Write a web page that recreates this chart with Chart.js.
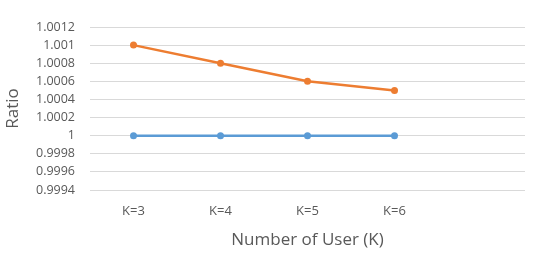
<!DOCTYPE html>
<html>
<head>
<meta charset="utf-8">
<script src="https://cdn.jsdelivr.net/npm/chart.js@4"></script>
<style>
  html, body { margin: 0; padding: 0; background: #fff; }
  #wrap { width: 539px; height: 257px; }
</style>
</head>
<body>
<div id="wrap"><canvas id="ratioChart"></canvas></div>
<script>
// categories (last slot is empty, as in the original sheet)
const userLabels = ['K=3', 'K=4', 'K=5', 'K=6', ''];

// series values
const blueRatio = [1, 1, 1, 1, null];
const orangeRatio = [1.001, 1.0008, 1.0006, 1.0005, null];

// y axis range
const yMin = 0.9994;
const yMax = 1.0012;
const yStep = 0.0002;

const textColor = '#595959';
const fontFamily = "'Open Sans', 'Noto Sans', sans-serif";

const data = {
  labels: userLabels,
  datasets: [
    {
      label: 'Series 1',
      data: blueRatio,
      borderColor: '#5B9BD5',
      backgroundColor: '#5B9BD5',
      borderWidth: 2.5,
      pointRadius: 3.5,
      pointBorderWidth: 0
    },
    {
      label: 'Series 2',
      data: orangeRatio,
      borderColor: '#ED7D31',
      backgroundColor: '#ED7D31',
      borderWidth: 2.5,
      pointRadius: 3.5,
      pointBorderWidth: 0
    }
  ]
};

const config = {
  type: 'line',
  data: data,
  options: {
    responsive: true,
    maintainAspectRatio: false,
    animation: false,
    layout: {
      padding: { top: 27, right: 14, bottom: 0, left: 0 }
    },
    plugins: {
      legend: { display: false },
      tooltip: { enabled: false }
    },
    scales: {
      x: {
        offset: true,
        grid: { display: false, drawTicks: false },
        border: { display: false },
        ticks: {
          color: textColor,
          padding: 13,
          font: { family: fontFamily, size: 13 }
        },
        title: {
          display: true,
          text: 'Number of User (K)',
          color: textColor,
          padding: { top: 7, bottom: 7 },
          font: { family: fontFamily, size: 17 }
        },
        afterFit: function (scale) { scale.height = 67; }
      },
      y: {
        min: yMin,
        max: yMax,
        grid: { color: '#d9d9d9', lineWidth: 1, drawTicks: false },
        border: { display: false },
        ticks: {
          stepSize: yStep,
          color: textColor,
          padding: 15,
          font: { family: fontFamily, size: 12.5 },
          callback: function (value) { return String(parseFloat(value.toFixed(4))); }
        },
        title: {
          display: true,
          text: 'Ratio',
          color: textColor,
          padding: { top: 3, bottom: 3 },
          font: { family: fontFamily, size: 17 }
        },
        afterFit: function (scale) { scale.width = 90; }
      }
    }
  }
};

const ratioChart = new Chart(
  document.getElementById('ratioChart'),
  config
);
</script>
</body>
</html>
